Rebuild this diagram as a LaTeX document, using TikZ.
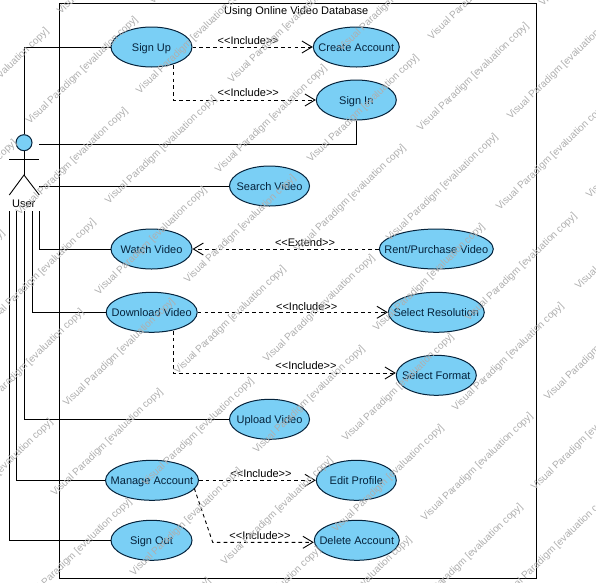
\documentclass[tikz,border=0pt]{standalone}
\usepackage{fontspec}
\setmainfont{Liberation Sans}
\usepackage{xcolor}
\definecolor{usecaseblue}{RGB}{122, 207, 245}
\definecolor{usecaseline}{RGB}{5, 35, 60}
\definecolor{marktext}{RGB}{175, 175, 175}
\usetikzlibrary{shapes.geometric, arrows.meta, positioning, calc}
% keeps the label from widening its ellipse
\newcommand{\uctext}[1]{\makebox[0pt]{#1}}
\newcommand{\incl}{<{}<Include>{}>}

\begin{document}
\begin{tikzpicture}[
    x=1pt, y=-1pt,
    font=\fontsize{11}{13}\selectfont,
    usecase/.style={ellipse, draw=usecaseline, fill=usecaseblue, line width=1pt,
                    inner sep=0pt, minimum height=40pt, text=usecaseline,
                    text height=8pt, text depth=0pt},
    assoc/.style={draw=black, line width=0.9pt},
    dep/.style={draw=black, line width=0.9pt, dashed, dash pattern=on 3.6pt off 3.2pt,
                -{Straight Barb[length=10pt, width=12pt, line width=0.9pt]}},
    deplabel/.style={inner sep=0pt, text height=8pt, text depth=0pt},
    wmark/.style={anchor=west, inner sep=0pt, rotate=44, text=marktext,
                  font=\fontsize{10}{12}\selectfont}
]
    \useasboundingbox (0,0) rectangle (596,582);
    \fill[white] (0,0) rectangle (596,582);

    % System boundary
    \node[draw=black, line width=1pt, minimum width=477pt, minimum height=575.5pt,
          inner sep=0pt, anchor=north west] (system) at (58.5,2.5) {};
    \node[deplabel] (title) at (296.3,10.3) {Using Online Video Database};

    % Actor
    \node[circle, draw=usecaseline, fill=usecaseblue, line width=1pt, minimum size=16pt,
          inner sep=0pt] (head) at (24,142.7) {};
    \coordinate (hip) at (24,175);
    \coordinate (lefthand) at (9.3,159.3);
    \coordinate (righthand) at (39.3,159.3);
    \coordinate (leftfoot) at (9.3,195);
    \coordinate (rightfoot) at (39.3,195);
    \draw[assoc] (head.south) -- (hip);
    \draw[assoc] (lefthand) -- (righthand);
    \draw[assoc] (leftfoot) -- (hip) -- (rightfoot);
    \node[deplabel] (user) at (23.7,203.5) {User};

    % Use cases
    \node[usecase, minimum width=81pt] (signup) at (151.5,47) {\uctext{Sign Up}};
    \node[usecase, minimum width=86pt] (create) at (356.3,47) {\uctext{Create Account}};
    \node[usecase, minimum width=80pt] (signin) at (356.3,100) {\uctext{Sign In}};
    \node[usecase, minimum width=80pt] (search) at (269.5,186) {\uctext{Search Video}};
    \node[usecase, minimum width=81pt] (watch) at (151.5,249) {\uctext{Watch Video}};
    \node[usecase, minimum width=114pt] (rent) at (436.3,249) {\uctext{Rent/Purchase Video}};
    \node[usecase, minimum width=91pt] (download) at (151.7,312.3) {\uctext{Download Video}};
    \node[usecase, minimum width=96pt] (resolution) at (436.3,312.3) {\uctext{Select Resolution}};
    \node[usecase, minimum width=80pt] (format) at (436.3,375.3) {\uctext{Select Format}};
    \node[usecase, minimum width=80pt] (upload) at (269.5,419.3) {\uctext{Upload Video}};
    \node[usecase, minimum width=93pt] (manage) at (152,480.3) {\uctext{Manage Account}};
    \node[usecase, minimum width=80pt] (profile) at (356.3,480.3) {\uctext{Edit Profile}};
    \node[usecase, minimum width=81pt] (signout) at (151.5,540.3) {\uctext{Sign Out}};
    \node[usecase, minimum width=85pt] (delete) at (356.8,540.3) {\uctext{Delete Account}};

    % Associations
    \coordinate (uIn) at (39.3,144.4);
    \coordinate (uSearch) at (39.3,186);
    \coordinate (uWatch) at (39.3,211);
    \coordinate (uDownload) at (32.3,211);
    \coordinate (uUpload) at (24.3,211);
    \coordinate (uManage) at (16.3,211);
    \coordinate (uOut) at (9.7,211);
    \draw[assoc] (head.north) |- (signup.west);
    \draw[assoc] (uIn) -| (signin.south);
    \draw[assoc] (uSearch) -- (search.west);
    \draw[assoc] (uWatch) |- (watch.west);
    \draw[assoc] (uDownload) |- (download.west);
    \draw[assoc] (uUpload) |- (upload.west);
    \draw[assoc] (uManage) |- (manage.west);
    \draw[assoc] (uOut) |- (signout.west);

    % Include and extend
    \coordinate (upFoot) at (173.3,65);
    \coordinate (dlFoot) at (173.3,331);
    \coordinate (dlBend) at (173.3,373);
    \coordinate (maFoot) at (194.3,488.3);
    \coordinate (maBend) at (212.7,542.3);
    \draw[dep] (signup.east) -- (create.west);
    \draw[dep] (upFoot) |- (signin.west);
    \draw[dep] (rent.west) -- (watch.east);
    \draw[dep] (download.east) -- (resolution.west);
    \draw[dep] (dlFoot) -- (dlBend) -- (format.west |- dlBend);
    \draw[dep] (manage.east) -- (profile.west);
    \draw[dep] (maFoot) -- (maBend) -- (delete.west |- maBend);

    \node[deplabel] (l1) at (248.3,40) {\incl};
    \node[deplabel] (l2) at (248.3,92) {\incl};
    \node[deplabel] (l3) at (305,242) {<{}<Extend>{}>};
    \node[deplabel] (l4) at (306.7,306) {\incl};
    \node[deplabel] (l5) at (306,365) {\incl};
    \node[deplabel] (l6) at (261,473) {\incl};
    \node[deplabel] (l7) at (260,535) {\incl};

    % Watermark
    \begin{scope}
        \clip (0,0) rectangle (596,582);
        \foreach \c/\xo/\kmin/\kmax in {583/22/-1/1, 442/53/-2/2, 340/65/-2/3, 196/18/-1/5, 95/28/0/7,
                                        -46/59/0/6, -149/72/1/6, -291/24/4/7, -393/35/5/7, -538/67/6/6} {
            \foreach \k in {\kmin,...,\kmax} {
                \node[wmark] (mark\c\k) at ({\xo+\k*79},{\xo+\k*79.3+\c}) {Visual Paradigm [evaluation copy]};
            }
        }
    \end{scope}
\end{tikzpicture}
\end{document}
